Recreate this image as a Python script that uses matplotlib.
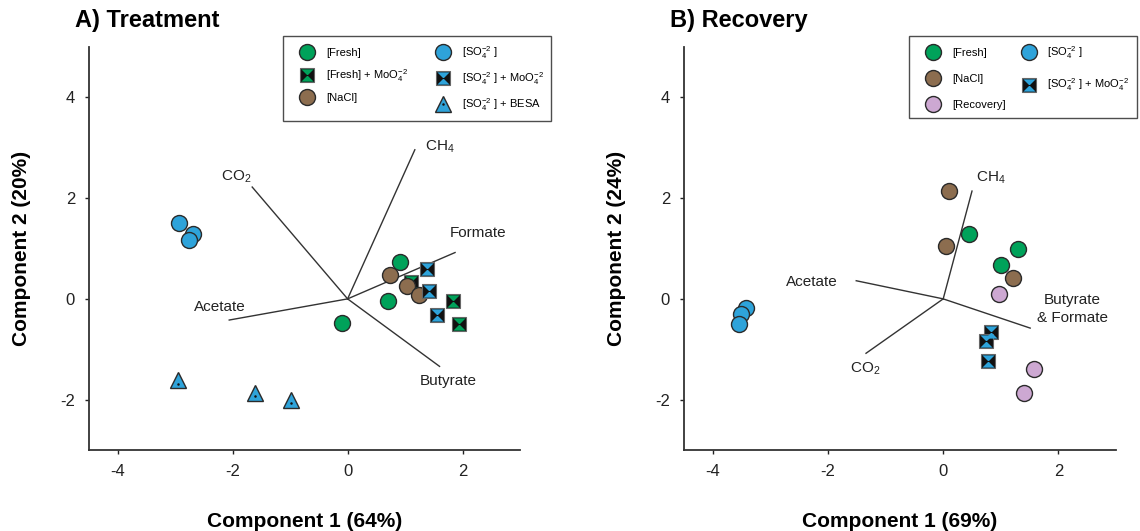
import matplotlib
matplotlib.use("Agg")
import matplotlib.pyplot as plt
from matplotlib.path import Path
from matplotlib.legend_handler import HandlerTuple

plt.rcParams['font.family'] = ['Liberation Sans', 'DejaVu Sans']
plt.rcParams['mathtext.fontset'] = 'custom'
plt.rcParams['mathtext.rm'] = 'Liberation Sans'
plt.rcParams['mathtext.it'] = 'Liberation Sans'
plt.rcParams['axes.unicode_minus'] = False

# ---- panel A: treatment scores ----
a_fresh_x = [-0.09, 0.70, 0.91]
a_fresh_y = [-0.47, -0.04, 0.74]
a_fresh_mo_x = [1.10, 1.83, 1.94]
a_fresh_mo_y = [0.33, -0.05, -0.49]
a_nacl_x = [0.73, 1.03, 1.24]
a_nacl_y = [0.48, 0.26, 0.08]
a_so4_x = [-2.93, -2.69, -2.76]
a_so4_y = [1.51, 1.28, 1.16]
a_so4_mo_x = [1.38, 1.41, 1.55]
a_so4_mo_y = [0.60, 0.16, -0.32]
a_besa_x = [-2.95, -1.61, -0.98]
a_besa_y = [-1.62, -1.86, -2.00]

# panel A loadings
a_load_names = ["CH$_4$", "CO$_2$", "Formate", "Acetate", "Butyrate"]
a_load_x = [1.17, -1.66, 1.87, -2.06, 1.60]
a_load_y = [2.96, 2.22, 0.92, -0.42, -1.34]

# ---- panel B: recovery scores ----
b_fresh_x = [0.45, 1.29, 1.00]
b_fresh_y = [1.28, 1.00, 0.68]
b_nacl_x = [0.10, 0.05, 1.22]
b_nacl_y = [2.14, 1.04, 0.42]
b_rec_x = [0.97, 1.58, 1.41]
b_rec_y = [0.10, -1.40, -1.86]
b_so4_x = [-3.43, -3.51, -3.55]
b_so4_y = [-0.18, -0.30, -0.50]
b_so4_mo_x = [0.83, 0.75, 0.78]
b_so4_mo_y = [-0.66, -0.84, -1.24]

# panel B loadings
b_load_names = ["CH$_4$", "Acetate", "CO$_2$", "Butyrate\n& Formate"]
b_load_x = [0.50, -1.51, -1.34, 1.51]
b_load_y = [2.14, 0.36, -1.08, -0.58]

x_ticks = [-4, -2, 0, 2]
y_ticks = [-2, 0, 2, 4]

GREEN = "#00A25A"
BLUE = "#2EA3DA"
BROWN = "#8C6D4F"
PINK = "#CDA8D2"
EDGE = "#2a2a2a"

# top and bottom triangles of the hourglass square
hourglass = Path(
    [(-1, 1), (1, 1), (0, 0), (-1, 1), (-1, -1), (1, -1), (0, 0), (-1, -1)],
    [Path.MOVETO, Path.LINETO, Path.LINETO, Path.CLOSEPOLY] * 2)


def circle(ax, x, y, color):
    return ax.plot(x, y, "o", ms=11.5, mfc=color, mec=EDGE, mew=1.0, ls="none")[0]


def hour(ax, x, y, color):
    h1 = ax.plot(x, y, "s", ms=10.5, mfc="#111111", mec="#666666", mew=0.8, ls="none")[0]
    h2 = ax.plot(x, y, marker=hourglass, ms=8.8, mfc=color, mew=0, ls="none")[0]
    return (h1, h2)


def besa(ax, x, y, color):
    h1 = ax.plot(x, y, "^", ms=12, mfc=color, mec=EDGE, mew=1.0, ls="none")[0]
    h2 = ax.plot(x, [v - 0.06 for v in y], "o", ms=1.8, mfc="#111111", mec="#111111",
                 mew=0, ls="none")[0]
    return (h1, h2)


def style_axes(ax):
    ax.set_xlim(-4.5, 3)
    ax.set_ylim(-3, 5)
    ax.set_xticks(x_ticks)
    ax.set_yticks(y_ticks)
    for s in ["top", "right"]:
        ax.spines[s].set_visible(False)
    for s in ["left", "bottom"]:
        ax.spines[s].set_linewidth(1.3)
        ax.spines[s].set_color("#333333")
    ax.tick_params(direction="out", length=3, width=1, labelsize=12, pad=7, colors="#222222")


def loadings(ax, xs, ys, names, label_pos, aligns):
    for x, y, name, (tx, ty), ha in zip(xs, ys, names, label_pos, aligns):
        ax.plot([0, x], [0, y], color="#333333", lw=1.0, zorder=1)
        ax.text(tx, ty, name, fontsize=11, ha=ha, va="center", color="#222222",
                multialignment="center", linespacing=1.3)


fig = plt.figure(figsize=(11.4, 5.31), dpi=100)
ax1 = fig.add_axes([89 / 1140, 81 / 531, 431 / 1140, 403 / 531])
ax2 = fig.add_axes([684 / 1140, 81 / 531, 432 / 1140, 403 / 531])

# panel A
style_axes(ax1)
loadings(ax1, a_load_x, a_load_y, a_load_names,
         [(1.34, 3.02), (-2.2, 2.42), (1.78, 1.3), (-2.67, -0.16), (1.26, -1.64)],
         ["left", "left", "left", "left", "left"])
hA_fm = hour(ax1, a_fresh_mo_x, a_fresh_mo_y, GREEN)
hA_f = circle(ax1, a_fresh_x, a_fresh_y, GREEN)
hA_n = circle(ax1, a_nacl_x, a_nacl_y, BROWN)
hA_sm = hour(ax1, a_so4_mo_x, a_so4_mo_y, BLUE)
hA_s = circle(ax1, a_so4_x, a_so4_y, BLUE)
hA_b = besa(ax1, a_besa_x, a_besa_y, BLUE)
ax1.set_xlabel("Component 1 (64%)", fontsize=15, fontweight="bold", labelpad=24)
ax1.set_ylabel("Component 2 (20%)", fontsize=15, fontweight="bold", labelpad=21)
fig.text(75 / 1140, 1 - 20 / 531, "A) Treatment", fontsize=17, fontweight="bold", va="center")

so4 = r"[SO$_4^{-2}$ ]"
moo4 = r"MoO$_4^{-2}$"
leg_kw = dict(handler_map={tuple: HandlerTuple(ndivide=1, pad=0)},
              ncol=2, loc="upper left", fontsize=8, frameon=True, fancybox=False,
              edgecolor="#222222", handlelength=3.0, handletextpad=0.15,
              borderaxespad=0)
legA = fig.legend(
    [hA_f, hA_fm, hA_n, hA_s, hA_sm, hA_b],
    ["[Fresh]", "[Fresh] + " + moo4, "[NaCl]", so4, so4 + " + " + moo4, so4 + " + BESA"],
    bbox_to_anchor=(283 / 1140, 1 - 36 / 531), columnspacing=1.7, labelspacing=0.85,
    borderpad=0.7, **leg_kw)
legA.get_frame().set_linewidth(1.0)

# panel B
style_axes(ax2)
loadings(ax2, b_load_x, b_load_y, b_load_names,
         [(0.57, 2.4), (-2.73, 0.34), (-1.62, -1.38), (2.24, -0.2)],
         ["left", "left", "left", "center"])
hB_f = circle(ax2, b_fresh_x, b_fresh_y, GREEN)
hB_n = circle(ax2, b_nacl_x, b_nacl_y, BROWN)
hB_r = circle(ax2, b_rec_x, b_rec_y, PINK)
hB_s = circle(ax2, b_so4_x, b_so4_y, BLUE)
hB_sm = hour(ax2, b_so4_mo_x, b_so4_mo_y, BLUE)
ax2.set_xlabel("Component 1 (69%)", fontsize=15, fontweight="bold", labelpad=24)
ax2.set_ylabel("Component 2 (24%)", fontsize=15, fontweight="bold", labelpad=21)
fig.text(670 / 1140, 1 - 20 / 531, "B) Recovery", fontsize=17, fontweight="bold", va="center")

legB = fig.legend(
    [hB_f, hB_n, hB_r, hB_s, hB_sm],
    ["[Fresh]", "[NaCl]", "[Recovery]", so4, so4 + " + " + moo4],
    bbox_to_anchor=(909 / 1140, 1 - 36 / 531), columnspacing=0.6, labelspacing=1.45,
    borderpad=0.7, **leg_kw)
legB.get_frame().set_linewidth(1.0)

fig.savefig("out.png", dpi=100)
